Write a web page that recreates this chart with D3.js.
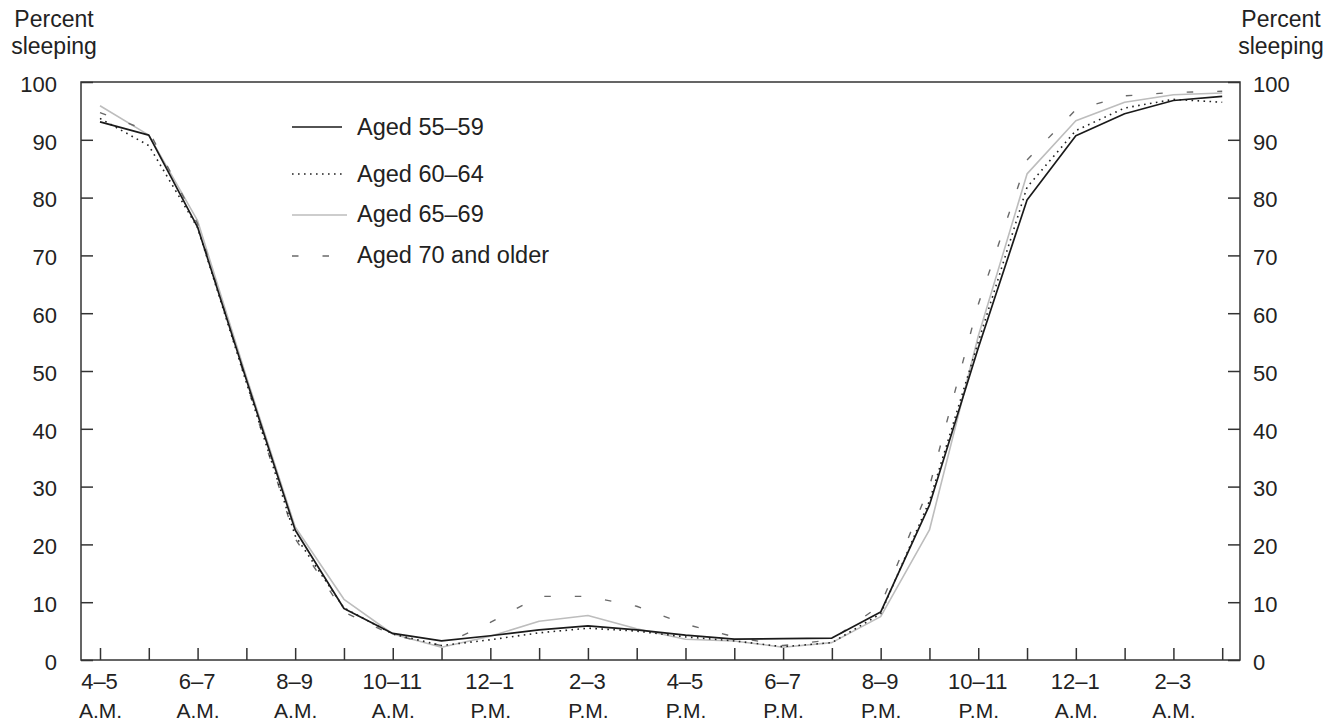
<!DOCTYPE html>
<html>
<head>
<meta charset="utf-8">
<script src="https://cdn.jsdelivr.net/npm/d3@7"></script>
<style>
  html, body { margin: 0; padding: 0; background: #fff; }
  svg { display: block; font-family: "Liberation Sans", Arial, Helvetica, sans-serif; }
</style>
</head>
<body>
<svg id="chart" width="1325" height="725"></svg>
<script>
// ---- data ----
const hours = ["4–5","5–6","6–7","7–8","8–9","9–10","10–11","11–12","12–1","1–2","2–3","3–4",
               "4–5","5–6","6–7","7–8","8–9","9–10","10–11","11–12","12–1","1–2","2–3","3–4"];
const periods = ["A.M.","A.M.","A.M.","A.M.","A.M.","A.M.","A.M.","A.M.","P.M.","P.M.","P.M.","P.M.",
                 "P.M.","P.M.","P.M.","P.M.","P.M.","P.M.","P.M.","P.M.","A.M.","A.M.","A.M.","A.M."];
const seriesNames = ["Aged 55–59", "Aged 60–64", "Aged 65–69", "Aged 70 and older"];
const aged55to59 = [93.1, 90.8, 74.9, 48.5, 22.5, 8.9, 4.6, 3.3, 4.2, 5.2, 5.9, 5.2,
                    4.3, 3.6, 3.7, 3.8, 8.3, 26.8, 54.0, 79.6, 90.7, 94.5, 96.8, 97.5];
const aged60to64 = [93.7, 89.0, 74.8, 48.0, 21.5, 9.0, 4.5, 2.5, 3.5, 4.7, 5.5, 5.0,
                    4.0, 3.3, 2.3, 3.0, 8.0, 27.5, 55.0, 81.8, 91.6, 95.5, 97.0, 96.5];
const aged65to69 = [95.9, 90.8, 76.0, 49.0, 23.0, 10.5, 4.5, 2.2, 4.1, 6.7, 7.7, 5.4,
                    3.6, 3.3, 2.2, 3.0, 7.5, 22.5, 56.0, 84.1, 93.3, 96.5, 97.8, 98.1];
const aged70plus = [94.7, 91.5, 75.5, 48.0, 21.0, 8.3, 4.3, 2.5, 6.5, 11.0, 11.0, 9.3,
                    6.2, 4.0, 2.5, 3.5, 9.5, 30.0, 61.5, 86.5, 95.2, 97.6, 98.2, 98.4];
const yTicks = [0, 10, 20, 30, 40, 50, 60, 70, 80, 90, 100];
const yTitle = ["Percent", "sleeping"];

const seriesValues = [aged55to59, aged60to64, aged65to69, aged70plus];

// ---- styles ----
const styles = [
  { stroke: "#1a1a1a", width: 1.7, dash: null },
  { stroke: "#222",    width: 1.6, dash: "1.6,4.4" },
  { stroke: "#bdbdbd", width: 1.6, dash: null },
  { stroke: "#6a6a6a", width: 1.4, dash: "6.5,24" }
];
const drawOrder = [2, 3, 1, 0];

const svg = d3.select("#chart");
const L = 81, R = 1240, T = 82, B = 660;

const x = d3.scaleLinear().domain([0, hours.length - 1]).range([100, 1222.2]);
const y = d3.scaleLinear().domain([0, 100]).range([B, T]);

const axisColor = "#333";
const fontSize = 22;

// frame
svg.append("rect")
  .attr("x", L).attr("y", T).attr("width", R - L).attr("height", B - T)
  .attr("fill", "none").attr("stroke", axisColor).attr("stroke-width", 1.5);

// left axis
const gl = svg.append("g").attr("transform", `translate(${L},0)`)
  .call(d3.axisLeft(y).tickValues(yTicks).tickSize(-12).tickPadding(24));
// right axis
const gr = svg.append("g").attr("transform", `translate(${R},0)`)
  .call(d3.axisRight(y).tickValues(yTicks).tickSize(-12).tickPadding(13));
// bottom axis
const gb = svg.append("g").attr("transform", `translate(0,${B})`)
  .call(d3.axisBottom(x).tickValues(d3.range(hours.length)).tickSize(-12).tickFormat(""));

[gl, gr, gb].forEach(g => {
  g.select(".domain").remove();
  g.selectAll(".tick line").attr("stroke", axisColor).attr("stroke-width", 1.5);
  g.selectAll(".tick text")
    .attr("fill", "#222")
    .style("font-size", fontSize + "px")
    .style("font-family", "'Liberation Sans', Arial, sans-serif");
});
[gl, gr].forEach(g => g.selectAll(".tick text").attr("dy", "0.42em"));

// bottom two-line labels (every other hour)
gb.selectAll(".tick").each(function(d) {
  if (d % 2 !== 0) return;
  const t = d3.select(this).append("text")
    .attr("text-anchor", "middle")
    .attr("fill", "#222")
    .style("font-size", fontSize + "px");
  t.append("tspan").attr("x", -1).attr("y", 29).text(hours[d]);
  t.append("tspan").attr("x", 0).attr("y", 58).style("font-size", "21px").text(periods[d]);
});

// axis titles
[[54, 1281]].forEach(() => {});
const titleX = [54, 1281];
titleX.forEach(tx => {
  const t = svg.append("text").attr("text-anchor", "middle").attr("fill", "#222")
    .style("font-size", "23px");
  t.append("tspan").attr("x", tx).attr("y", 27).text(yTitle[0]);
  t.append("tspan").attr("x", tx).attr("y", 54).text(yTitle[1]);
});

// lines
const line = d3.line().x((d, i) => x(i)).y(d => y(d));
drawOrder.forEach(k => {
  const s = styles[k];
  svg.append("path")
    .datum(seriesValues[k])
    .attr("d", line)
    .attr("fill", "none")
    .attr("stroke", s.stroke)
    .attr("stroke-width", s.width)
    .attr("stroke-linejoin", "round")
    .attr("stroke-dasharray", s.dash);
});

// legend
const legLineY = [127, 174, 215, 256];
const legTextY = [135, 182, 222, 263];
const legX2 = [342, 342, 347, 342];
const leg = svg.append("g");
seriesNames.forEach((name, k) => {
  const s = styles[k];
  leg.append("line")
    .attr("x1", 292).attr("x2", legX2[k])
    .attr("y1", legLineY[k]).attr("y2", legLineY[k])
    .attr("stroke", s.stroke).attr("stroke-width", s.width)
    .attr("stroke-dasharray", s.dash);
  leg.append("text")
    .attr("x", 357).attr("y", legTextY[k])
    .attr("fill", "#222")
    .style("font-size", "23.5px")
    .text(name);
});
</script>
</body>
</html>
